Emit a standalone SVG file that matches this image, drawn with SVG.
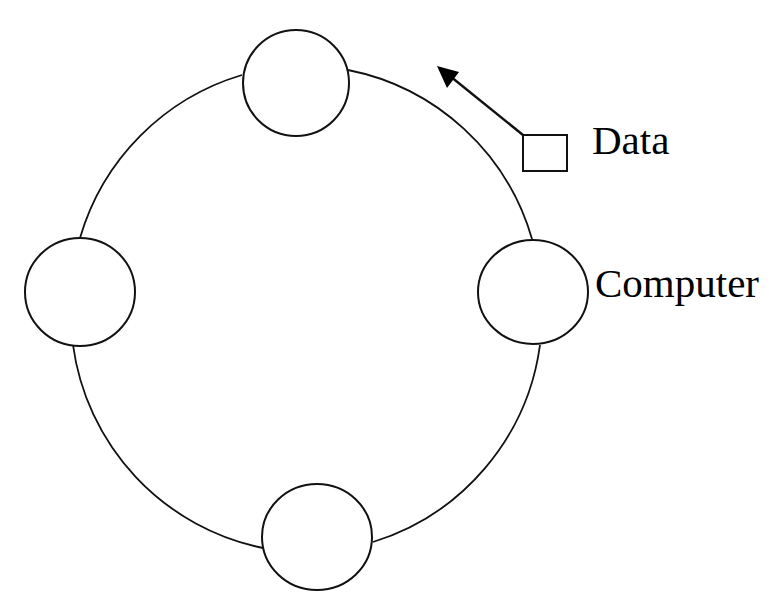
<svg xmlns="http://www.w3.org/2000/svg" width="784" height="614" viewBox="0 0 784 614">
<style>
.ring{fill:none;stroke:#111;stroke-width:1.8}
.node{fill:#fff;stroke:#111;stroke-width:2}
.lbl{font-family:"Liberation Serif","Times New Roman",serif;font-size:41px;fill:#000}
</style>
<rect width="784" height="614" fill="#fff"/>
<g id="connectors">
<path class="ring" d="M242,75 A240,240 0 0 0 80,238"/>
<path class="ring" d="M73,345 A240,240 0 0 0 263,548"/>
<path class="ring" d="M373,542 A240,240 0 0 0 540,345"/>
<path class="ring" d="M532,239 A240,240 0 0 0 348,70"/>
<line x1="523" y1="135" x2="445" y2="72" stroke="#111" stroke-width="2.5"/>
<polygon points="437,66 459,72 447,88" fill="#000"/>
</g>
<g id="node-top"><ellipse class="node" cx="296" cy="83" rx="53" ry="53"/></g>
<g id="node-right"><ellipse class="node" cx="533" cy="292" rx="55" ry="52"/></g>
<g id="node-left"><ellipse class="node" cx="80" cy="292" rx="55" ry="54"/></g>
<g id="node-bottom"><ellipse class="node" cx="317" cy="537" rx="55" ry="53"/></g>
<g id="data"><rect x="523" y="135" width="44" height="36" fill="#fff" stroke="#111" stroke-width="2"/>
<text class="lbl" x="592" y="154">Data</text></g>
<g id="label-computer"><text class="lbl" x="595" y="297">Computer</text></g>
</svg>
